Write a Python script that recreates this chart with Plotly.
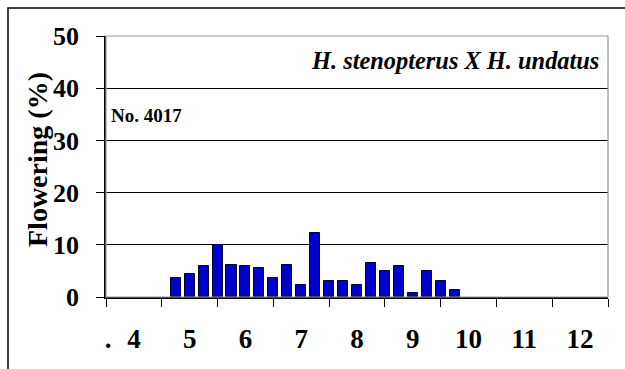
import plotly.graph_objects as go

# Weekly flowering percentages, hybrid No. 4017
weeks = list(range(5, 26))
flowering = [3.7, 4.4, 5.9, 9.9, 6.2, 5.9, 5.5, 3.7, 6.2, 2.3, 12.3,
             3.0, 3.0, 2.3, 6.6, 5.0, 5.9, 0.8, 5.0, 3.0, 1.4]

# Month labels sit centred between the four-week tick marks
month_pos = [0.15, 2, 6, 10, 14, 18, 22, 26, 30, 34]
month_text = [".", "4", "5", "6", "7", "8", "9", "10", "11", "12"]
tick_pos = list(range(0, 37, 4))
y_ticks = [0, 10, 20, 30, 40, 50]

W, H = 625, 369
ML, MR, MT, MB = 106, 17, 36, 72
pw, ph = W - ML - MR, H - MT - MB

FONT = "Liberation Serif"
TICKFONT = dict(family=FONT, size=26, color="black", weight="bold")

fig = go.Figure()
fig.add_trace(go.Bar(
    x=weeks, y=flowering, width=0.72,
    marker=dict(color="#0000CC", line=dict(color="#000033", width=1)),
    xaxis="x", yaxis="y", showlegend=False, hoverinfo="x+y",
))
# invisible carrier so the month-label axis is rendered
fig.add_trace(go.Scatter(
    x=[month_pos[0], month_pos[-1]], y=[0, 0], mode="markers",
    marker=dict(opacity=0), xaxis="x2", yaxis="y",
    showlegend=False, hoverinfo="skip",
))

fig.update_layout(
    width=W, height=H,
    margin=dict(l=ML, r=MR, t=MT, b=MB),
    paper_bgcolor="white", plot_bgcolor="white",
    font=dict(family=FONT, color="black"),
    bargap=0,
    xaxis=dict(
        range=[0, 36], tickmode="array", tickvals=tick_pos, ticktext=[""] * len(tick_pos),
        ticks="outside", ticklen=8, tickwidth=1.2, tickcolor="black",
        showline=True, linecolor="black", linewidth=1.5,
        showgrid=False, zeroline=False, fixedrange=True,
    ),
    xaxis2=dict(
        overlaying="x", side="bottom", anchor="y",
        range=[0, 36], tickmode="array", tickvals=month_pos, ticktext=month_text,
        ticks="", showline=False, showgrid=False, zeroline=False,
        tickfont=dict(family=FONT, size=27, color="black", weight="bold"),
        ticklabelstandoff=23, fixedrange=True,
    ),
    yaxis=dict(
        range=[0, 50], tickmode="array", tickvals=y_ticks,
        ticks="outside", ticklen=8, tickwidth=1.2, tickcolor="black",
        showline=True, linecolor="black", linewidth=1.5,
        showgrid=True, gridcolor="black", gridwidth=1.2,
        zeroline=False, fixedrange=True,
        tickfont=TICKFONT, ticklabelstandoff=12,
    ),
    annotations=[
        # y-axis title
        dict(text="<b>Flowering (%)</b>", xref="paper", yref="paper",
             x=(37 - ML) / pw, y=1 - (160 - MT) / ph, xanchor="center", yanchor="middle",
             textangle=-90, showarrow=False,
             font=dict(family=FONT, size=28, color="black")),
        dict(text="<b><i>H. stenopterus X H. undatus</i></b>", xref="paper", yref="paper",
             x=0.987, y=0.905, xanchor="right", yanchor="middle", showarrow=False,
             font=dict(family=FONT, size=24.4, color="black")),
        dict(text="<b>No. 4017</b>", xref="paper", yref="paper",
             x=0.006, y=0.695, xanchor="left", yanchor="middle", showarrow=False,
             font=dict(family=FONT, size=19, color="black")),
    ],
    shapes=[
        # grey plot-area frame
        dict(type="rect", xref="paper", yref="paper", x0=0, y0=0, x1=1, y1=1,
             line=dict(color="#9a9a9a", width=1.2), layer="above"),
        # outer chart frame, running off the right and bottom edges
        dict(type="rect", xref="paper", yref="paper",
             x0=(8 - ML) / pw, y0=-(H + 10 - MT - ph) / ph,
             x1=(W + 10 - ML) / pw, y1=1 + (MT - 8) / ph,
             line=dict(color="black", width=1.5), layer="above"),
    ],
)

fig.write_html("out.html")
